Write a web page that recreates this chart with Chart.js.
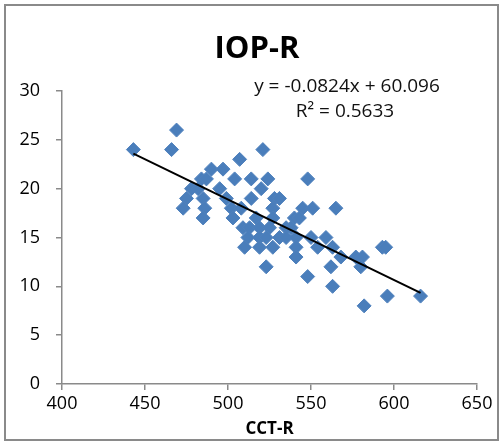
<!DOCTYPE html>
<html>
<head>
<meta charset="utf-8">
<script src="https://cdn.jsdelivr.net/npm/chart.js@4"></script>
<style>
  html, body { margin: 0; padding: 0; background: #fff; }
  #wrap { position: relative; width: 504px; height: 443px; }
</style>
</head>
<body>
<div id="wrap"><canvas id="myChart" width="504" height="443"></canvas></div>
<script>
// CCT-R (x) and IOP-R (y)
const cctR = [443, 469, 466, 507, 521,
  490, 497,
  484, 487, 504, 514, 524, 548,
  478, 482, 495, 520,
  475, 485, 499, 514, 528, 531,
  473, 486, 502, 508, 527, 545, 551, 565,
  485, 503, 517, 527, 540, 543,
  509, 513, 519, 525, 535, 538,
  512, 519, 523, 531, 535, 541, 550, 559,
  510, 519, 527, 541, 554, 563, 593, 595,
  541, 568, 577, 581,
  523, 562, 580,
  548, 563, 596, 616, 582];
const iopR = [24, 26, 24, 23, 24,
  22, 22,
  21, 21, 21, 21, 21, 21,
  20, 20, 20, 20,
  19, 19, 19, 19, 19, 19,
  18, 18, 18, 18, 18, 18, 18, 18,
  17, 17, 17, 17, 17, 17,
  16, 16, 16, 16, 16, 16,
  15, 15, 15, 15, 15, 15, 15, 15,
  14, 14, 14, 14, 14, 14, 14, 14,
  13, 13, 13, 13,
  12, 12, 12,
  11, 10, 9, 9, 8];

// linear trendline from the chart label
const slope = -0.0824;
const intercept = 60.096;
const rSquared = 0.5633;

const xTicks = [400, 450, 500, 550, 600, 650];
const yTicks = [0, 5, 10, 15, 20, 25, 30];

const points = cctR.map((x, i) => ({ x: x, y: iopR[i] }));
const xMin = Math.min(...cctR), xMax = Math.max(...cctR);
const trend = [xMin, xMax].map(x => ({ x: x, y: slope * x + intercept }));

const FONT = "'Open Sans', 'DejaVu Sans', sans-serif";
const AXIS_GREY = '#8a8a8a';

const decorations = {
    id: 'decorations',
    afterDraw(chart) {
        const ctx = chart.ctx;
        ctx.save();
        // outer frame
        ctx.strokeStyle = '#8a8a8a';
        ctx.lineWidth = 2;
        ctx.strokeRect(5, 5, 493, 435);
        // title
        ctx.fillStyle = '#000';
        ctx.textAlign = 'center';
        ctx.textBaseline = 'alphabetic';
        ctx.font = 'bold 31px ' + FONT;
        ctx.fillText('IOP-R', 257, 58);
        // trendline label
        ctx.font = '19px ' + FONT;
        ctx.fillStyle = '#111';
        ctx.fillText('y = ' + slope + 'x + ' + intercept, 347, 92);
        ctx.fillText('R\u00B2 = ' + rSquared, 345, 117);
        ctx.restore();
    }
};

const ctx = document.getElementById('myChart').getContext('2d');
new Chart(ctx, {
    type: 'scatter',
    data: {
        datasets: [
            {
                label: 'trend',
                type: 'line',
                data: trend,
                borderColor: '#000',
                borderWidth: 2,
                pointRadius: 0,
                fill: false,
                order: 0
            },
            {
                label: 'IOP-R',
                data: points,
                pointStyle: 'rectRot',
                pointRadius: 7,
                pointHoverRadius: 7,
                backgroundColor: '#4A7EBB',
                borderColor: '#4F81BD',
                borderWidth: 1,
                order: 1
            }
        ]
    },
    options: {
        responsive: false,
        animation: false,
        layout: { padding: { top: 91, right: 27, left: 0, bottom: 0 } },
        plugins: {
            legend: { display: false },
            tooltip: { enabled: false }
        },
        scales: {
            x: {
                type: 'linear',
                min: xTicks[0],
                max: xTicks[xTicks.length - 1],
                afterBuildTicks: scale => { scale.ticks = xTicks.map(v => ({ value: v })); },
                afterFit: scale => { scale.height = 59; },
                grid: { drawOnChartArea: false, drawTicks: true, tickLength: 6, color: AXIS_GREY, lineWidth: 1.5 },
                border: { color: AXIS_GREY, width: 1.5 },
                ticks: { color: '#000', padding: 3, font: { family: FONT, size: 18 } },
                title: {
                    display: true,
                    text: 'CCT-R',
                    color: '#000',
                    padding: { top: 0, bottom: 4 },
                    font: { family: FONT, size: 17, weight: 'bold' }
                }
            },
            y: {
                type: 'linear',
                min: yTicks[0],
                max: yTicks[yTicks.length - 1],
                afterBuildTicks: scale => { scale.ticks = yTicks.map(v => ({ value: v })); },
                afterFit: scale => { scale.width = 62; },
                grid: { drawOnChartArea: false, drawTicks: true, tickLength: 6, color: AXIS_GREY, lineWidth: 1.5 },
                border: { color: AXIS_GREY, width: 1.5 },
                ticks: { color: '#000', padding: 16, font: { family: FONT, size: 18 } }
            }
        }
    },
    plugins: [decorations]
});
</script>
</body>
</html>
